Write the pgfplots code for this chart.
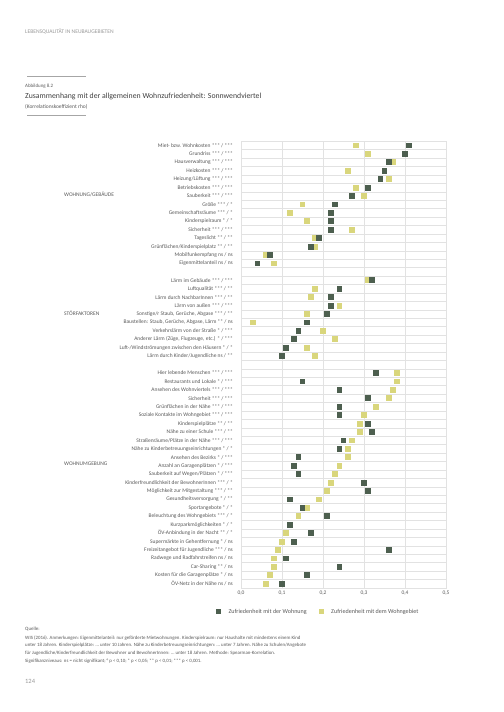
\documentclass[border=0pt]{standalone}
\usepackage{pgfplots}
\pgfplotsset{compat=1.18}
\usepackage{pgfplotstable}
\usepackage{fontspec}
\setmainfont{Carlito}
\definecolor{darkg}{HTML}{4D5F4F}
\definecolor{yell}{HTML}{D9D67C}
\definecolor{txt}{HTML}{5A5A5A}
\definecolor{gridc}{HTML}{E2E2E2}

\pgfplotstableread{
row val
1 0.41
2 0.40
3 0.36
4 0.35
5 0.34
6 0.31
7 0.27
8 0.23
9 0.22
10 0.22
11 0.22
12 0.19
13 0.17
14 0.07
15 0.04
17 0.32
18 0.24
19 0.22
20 0.22
21 0.21
22 0.16
23 0.14
24 0.13
25 0.11
26 0.10
28 0.33
29 0.15
30 0.24
31 0.31
32 0.24
33 0.24
34 0.31
35 0.32
36 0.25
37 0.24
38 0.14
39 0.13
40 0.14
41 0.30
42 0.31
43 0.12
44 0.15
45 0.21
46 0.12
47 0.17
48 0.13
49 0.36
50 0.11
51 0.24
52 0.16
53 0.10
}\wohnung

\pgfplotstableread{
row val
1 0.28
2 0.31
3 0.37
4 0.26
5 0.36
6 0.28
7 0.30
8 0.15
9 0.12
10 0.16
11 0.27
12 0.18
13 0.18
14 0.06
15 0.08
17 0.31
18 0.18
19 0.17
20 0.24
21 0.16
22 0.03
23 0.20
24 0.23
25 0.16
26 0.18
28 0.38
29 0.38
30 0.37
31 0.36
32 0.33
33 0.30
34 0.29
35 0.29
36 0.27
37 0.26
38 0.26
39 0.24
40 0.23
41 0.22
42 0.21
43 0.19
44 0.16
45 0.14
46 0.12
47 0.11
48 0.10
49 0.09
50 0.08
51 0.08
52 0.07
53 0.06
}\wohngebiet

\begin{document}
\begin{tikzpicture}
\fill[white] (0,0) rectangle (504bp,-712bp);
% header
\node[anchor=west,inner sep=0pt,text=gray!80,font=\fontsize{5.6}{6}\selectfont] at (25bp,-31.7bp) {LEBENSQUALITÄT IN NEUBAUGEBIETEN};
\draw[gray!70,line width=0.8bp] (27bp,-76.7bp) -- (86bp,-76.7bp);
\node[anchor=west,inner sep=0pt,text=txt,font=\fontsize{5}{6}\selectfont] at (25bp,-86bp) {Abbildung 8.2};
\node[anchor=west,inner sep=0pt,text=black!75,font=\fontsize{7.8}{9}\selectfont] at (25bp,-96.7bp) {Zusammenhang mit der allgemeinen Wohnzufriedenheit: Sonnwendviertel};
\node[anchor=west,inner sep=0pt,text=txt,font=\fontsize{5.5}{6}\selectfont] at (25bp,-107.3bp) {(Korrelationskoeffizient rho)};
\draw[gray!70,line width=0.8bp] (27bp,-115bp) -- (86bp,-115bp);
% group labels
\node[anchor=west,inner sep=0pt,text=txt,font=\fontsize{5.5}{6}\selectfont] at (64bp,-194bp) {WOHNUNG/GEBÄUDE};
\node[anchor=west,inner sep=0pt,text=txt,font=\fontsize{5.5}{6}\selectfont] at (64bp,-313bp) {STÖRFAKTOREN};
\node[anchor=west,inner sep=0pt,text=txt,font=\fontsize{5.5}{6}\selectfont] at (64bp,-464bp) {WOHNUMGEBUNG};

\begin{axis}[
  at={(241bp,-588bp)}, anchor=south west,
  scale only axis, width=205bp, height=446.7bp,
  xmin=0, xmax=0.5, ymin=0.5, ymax=53.5, y dir=reverse,
  xtick={0,0.1,0.2,0.3,0.4,0.5},
  xticklabel style={/pgf/number format/fixed,/pgf/number format/fixed zerofill,/pgf/number format/precision=1,/pgf/number format/use comma},
  /pgf/number format/assume math mode=true,
  ytick={1,2,3,4,5,6,7,8,9,10,11,12,13,14,15,17,18,19,20,21,22,23,24,25,26,28,29,30,31,32,33,34,35,36,37,38,39,40,41,42,43,44,45,46,47,48,49,50,51,52,53},
  yticklabels={
{Miet- bzw. Wohnkosten *** / ***},
{Grundriss *** / ***},
{Hausverwaltung *** / ***},
{Heizkosten *** / ***},
{Heizung/Lüftung *** / ***},
{Betriebskosten *** / ***},
{Sauberkeit *** / ***},
{Größe *** / *},
{Gemeinschaftsräume *** / *},
{Kinderspielraum * / *},
{Sicherheit *** / ***},
{Tageslicht ** / **},
{Grünflächen/Kinderspielplatz ** / **},
{Mobilfunkempfang ns / ns},
{Eigenmittelanteil ns / ns},
{Lärm im Gebäude *** / ***},
{Luftqualität *** / **},
{Lärm durch NachbarInnen *** / **},
{Lärm von außen *** / ***},
{Sonstige/r Staub, Gerüche, Abgase *** / **},
{Baustellen: Staub, Gerüche, Abgase, Lärm ** / ns},
{Verkehrslärm von der Straße * / ***},
{Anderer Lärm (Züge, Flugzeuge, etc.) * / ***},
{Luft-/Windströmungen zwischen den Häusern * / *},
{Lärm durch Kinder/Jugendliche ns / **},
{Hier lebende Menschen *** / ***},
{Restaurants und Lokale * / ***},
{Ansehen des Wohnviertels *** / ***},
{Sicherheit *** / ***},
{Grünflächen in der Nähe *** / ***},
{Soziale Kontakte im Wohngebiet *** / ***},
{Kinderspielplätze ** / **},
{Nähe zu einer Schule *** / **},
{Straßenräume/Plätze in der Nähe *** / ***},
{Nähe zu Kinderbetreuungseinrichtungen * / *},
{Ansehen des Bezirks * / ***},
{Anzahl an Garagenplätzen * / ***},
{Sauberkeit auf Wegen/Plätzen * / ***},
{Kinderfreundlichkeit der BewohnerInnen *** / *},
{Möglichkeit zur Mitgestaltung *** / **},
{Gesundheitsversorgung * / **},
{Sportangebote * / *},
{Beleuchtung des Wohngebiets *** / *},
{Kurzparkmöglichkeiten * / *},
{ÖV-Anbindung in der Nacht ** / *},
{Supermärkte in Gehentfernung * / ns},
{Freizeitangebot für Jugendliche *** / ns},
{Radwege und Radfahrstreifen ns / ns},
{Car-Sharing ** / ns},
{Kosten für die Garagenplätze * / ns},
{ÖV-Netz in der Nähe ns / ns}},
  minor ytick={0.5,1.5,...,53.5},
  yminorgrids, xmajorgrids, ymajorgrids=false,
  major tick length=0pt, minor tick length=0pt,
  grid style={gridc, line width=0.5bp},
  minor grid style={gridc, line width=0.5bp},
  axis line style={gridc, line width=0.6bp},
  yticklabel style={font=\fontsize{5.5}{6}\selectfont, text=txt, inner sep=0pt, xshift=-8bp},
  xticklabel style={font=\fontsize{5.5}{6}\selectfont, text=txt, inner sep=0pt, yshift=-3bp},
  legend columns=2,
  legend style={at={(0,-0.047)}, anchor=north west, xshift=-25bp, draw=none, fill=none,
    font=\fontsize{6.1}{6.5}\selectfont, text=txt, inner sep=0pt, outer sep=0pt,
    nodes={inner sep=0pt, outer sep=0pt},
    /tikz/every even column/.append style={column sep=12bp}},
  legend image code/.code={%
    \path[draw=none,fill=none] (-2.5bp,-2.5bp) rectangle (10bp,2.5bp);
    \fill[#1,draw=none] (-2.5bp,-2.5bp) rectangle (2.5bp,2.5bp);},
  legend cell align=left,
  clip=false
]
\addlegendimage{fill=darkg}
\addlegendentry{Zufriedenheit mit der Wohnung}
\addlegendimage{fill=yell}
\addlegendentry{Zufriedenheit mit dem Wohngebiet}
\addplot[forget plot, only marks, mark=square*, mark size=2.4bp, mark options={draw=yell, fill=yell, line width=0pt}] table[x=val,y=row] {\wohngebiet};
\addplot[forget plot, only marks, mark=square*, mark size=2.4bp, mark options={draw=darkg, fill=darkg, line width=0pt}] table[x=val,y=row] {\wohnung};
\end{axis}

% footnote
\node[anchor=west,inner sep=0pt,text=txt,font=\fontsize{5}{6}\selectfont] at (25bp,-629.3bp) {Quelle:};
\node[anchor=west,inner sep=0pt,text=txt,font=\fontsize{4.9}{6}\selectfont] at (25bp,-637.7bp) {WIS (2016). Anmerkungen: Eigenmittelanteil: nur geförderte Mietwohnungen. Kinderspielraum: nur Haushalte mit mindestens einem Kind};
\node[anchor=west,inner sep=0pt,text=txt,font=\fontsize{4.9}{6}\selectfont] at (25bp,-645.6bp) {unter 18 Jahren. Kinderspielplätze: \dots\ unter 10 Jahren. Nähe zu Kinderbetreuungseinrichtungen: \dots\ unter 7 Jahren. Nähe zu Schulen/Angebote};
\node[anchor=west,inner sep=0pt,text=txt,font=\fontsize{4.9}{6}\selectfont] at (25bp,-653.3bp) {für Jugendliche/Kinderfreundlichkeit der Bewohner und BewohnerInnen: \dots\ unter 18 Jahren. Methode: Spearman-Korrelation.};
\node[anchor=west,inner sep=0pt,text=txt,font=\fontsize{4.9}{6}\selectfont] at (25bp,-661bp) {Signifikanzniveaus: ns = nicht signifikant; ° p < 0,10; * p < 0,05; ** p < 0,01; *** p < 0,001.};
\node[anchor=west,inner sep=0pt,text=gray!80,font=\fontsize{6.5}{7}\selectfont] at (25bp,-681bp) {124};
\end{tikzpicture}
\end{document}
